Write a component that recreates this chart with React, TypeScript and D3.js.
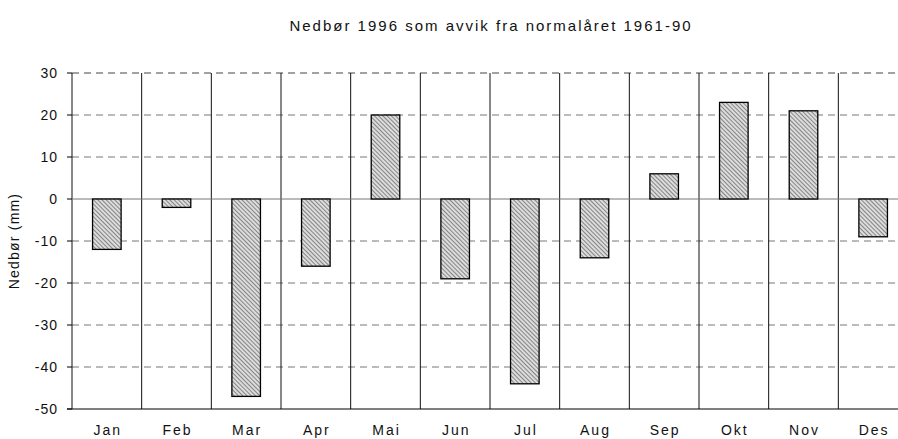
import React from 'react';
import * as d3 from 'd3';

const months = ['Jan', 'Feb', 'Mar', 'Apr', 'Mai', 'Jun', 'Jul', 'Aug', 'Sep', 'Okt', 'Nov', 'Des'];
const deviation = [-12, -2, -47, -16, 20, -19, -44, -14, 6, 23, 21, -9];
const yTicks = [30, 20, 10, 0, -10, -20, -30, -40, -50];

function App() {
  const width = 898;
  const height = 439;
  const margin = { top: 73, right: -10, bottom: 30, left: 72 };
  const innerW = width - margin.left - margin.right;
  const innerH = height - margin.top - margin.bottom;

  const x = d3.scaleBand().domain(months).range([0, innerW]);
  const y = d3.scaleLinear().domain([-50, 30]).range([innerH, 0]);
  const barW = x.bandwidth() * 0.41;

  return (
    <svg width={width} height={height} style={{ position: 'absolute', left: 0, top: 0, fontFamily: 'Liberation Sans, Arial, sans-serif' }}>
      <defs>
        <pattern id="hatch" width="3" height="3" patternUnits="userSpaceOnUse" patternTransform="rotate(-45)">
          <rect width="3" height="3" fill="#dcdcdc" />
          <line x1="0" y1="0" x2="0" y2="3" stroke="#555" strokeWidth="1.3" />
        </pattern>
      </defs>
      <rect width={width} height={height} fill="#fff" />
      <text x={margin.left + innerW / 2 + 1} y={31} textAnchor="middle" fontSize={15} letterSpacing={2} fill="#111">
        Nedbør 1996 som avvik fra normalåret 1961-90
      </text>
      <g transform={`translate(${margin.left},${margin.top})`}>
        {yTicks.filter(t => t !== 0 && t !== -50).map(t => (
          <line key={t} x1={0} x2={innerW} y1={y(t)} y2={y(t)} stroke={t === 30 ? '#444' : '#777'} strokeWidth={1} strokeDasharray="7,5" />
        ))}
        {months.map(m => (
          <line key={m} x1={x(m)!} x2={x(m)!} y1={0} y2={innerH} stroke="#111" strokeWidth={1} />
        ))}
        <line x1={0} x2={innerW} y1={y(0)} y2={y(0)} stroke="#777" strokeWidth={1} />
        <line x1={-5} x2={innerW} y1={y(-50)} y2={y(-50)} stroke="#000" strokeWidth={1} />
        {yTicks.map(t => (
          <g key={t}>
            <line x1={-5} x2={0} y1={y(t)} y2={y(t)} stroke="#000" />
            <text x={-14} y={y(t)} dy="0.35em" textAnchor="end" fontSize={14} letterSpacing={1} fill="#111">{t}</text>
          </g>
        ))}
        {months.map((m, i) => {
          const v = deviation[i];
          const cx = x(m)! + x.bandwidth() / 2;
          return (
            <rect key={m} x={cx - barW / 2} y={y(Math.max(0, v))} width={barW} height={Math.abs(y(v) - y(0))}
              fill="url(#hatch)" stroke="#000" strokeWidth={1.3} />
          );
        })}
        {months.map(m => (
          <text key={m} x={x(m)! + x.bandwidth() / 2 + 1} y={innerH + 26} textAnchor="middle" fontSize={14} letterSpacing={2} fill="#111">{m}</text>
        ))}
      </g>
      <text transform={`translate(19,${margin.top + innerH / 2}) rotate(-90)`} textAnchor="middle" fontSize={14} letterSpacing={1.2} fill="#111">
        Nedbør (mm)
      </text>
    </svg>
  );
}

export default App;
